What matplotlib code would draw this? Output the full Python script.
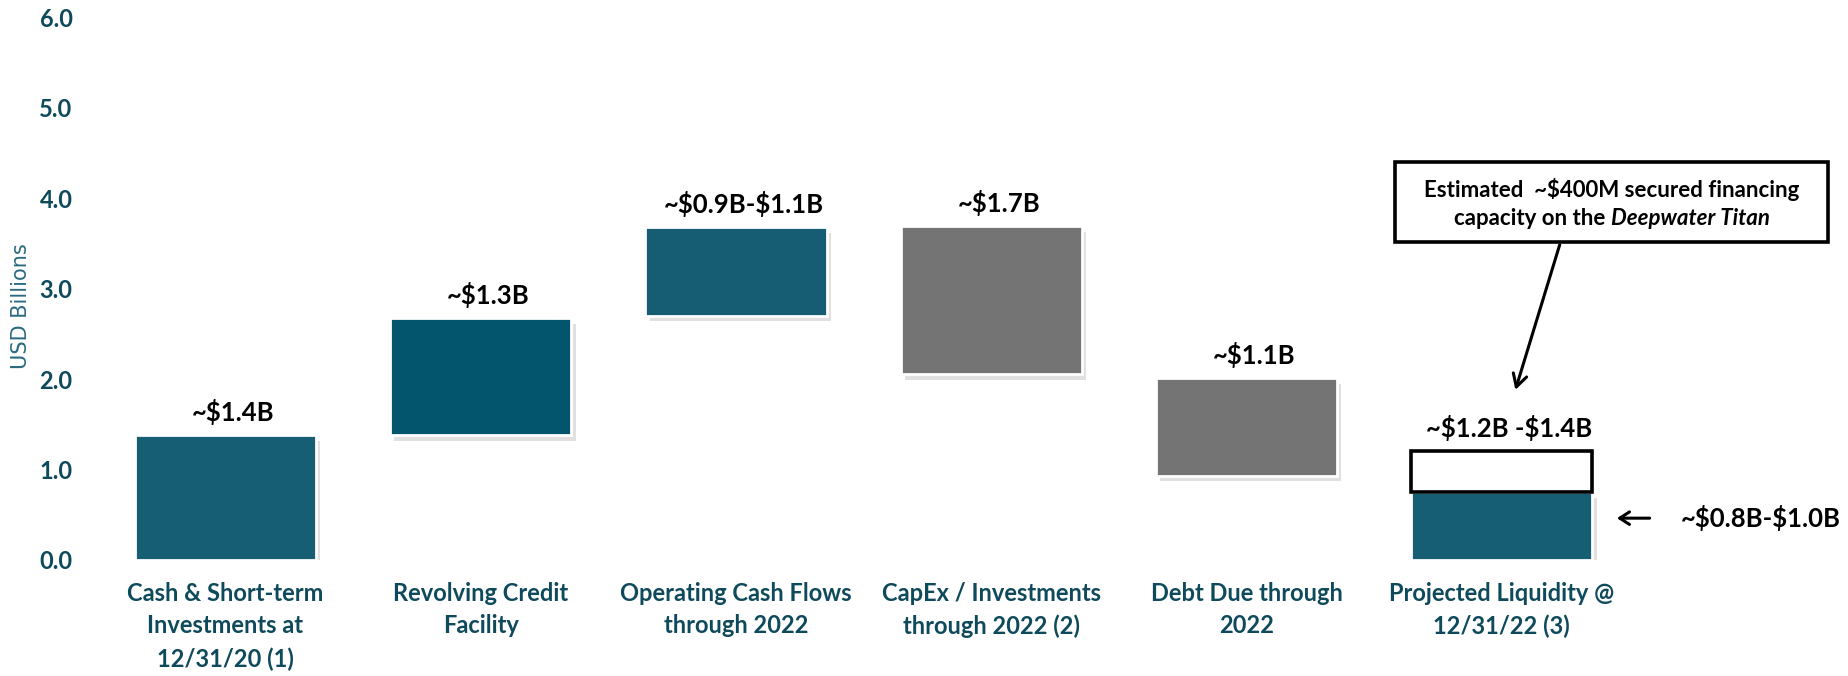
import matplotlib
matplotlib.use("Agg")
import matplotlib.pyplot as plt
import matplotlib.patheffects as pe
import numpy as np

# ---- data (USD billions) ----
categories = [
    "Cash & Short-term\nInvestments at\n12/31/20 (1)",
    "Revolving Credit\nFacility",
    "Operating Cash Flows\nthrough 2022",
    "CapEx / Investments\nthrough 2022 (2)",
    "Debt Due through\n2022",
    "Projected Liquidity @\n12/31/22 (3)",
]
bottoms = [0.0, 1.38, 2.70, 2.05, 0.93, 0.0]
tops = [1.38, 2.67, 3.68, 3.69, 2.01, 0.75]
bar_labels = ["~\\$1.4B", "~\\$1.3B", "~\\$0.9B-\\$1.1B", "~\\$1.7B", "~\\$1.1B", "~\\$1.2B -\\$1.4B"]
bar_colors = ["#165e74", "#03546d", "#165d74", "#747474", "#747474", "#165e74"]
capacity_top = 1.20          # projected liquidity incl. secured financing capacity
side_label = "~\\$0.8B-\\$1.0B"
yticks = [0, 1, 2, 3, 4, 5, 6]

TEAL_TXT = "#0f4a5c"
LATO = ["Lato", "DejaVu Sans"]
LBL_FONT = dict(family=LATO, fontweight="bold", fontsize=18.5, color="black")
BOX_FONT = dict(family=LATO, fontweight="bold", fontsize=16, color="black")

fig = plt.figure(figsize=(18.49, 6.76), dpi=100)
ax = fig.add_axes([0.046, 0.172, 0.954, 0.802])

x = np.arange(len(categories))
heights = np.array(tops) - np.array(bottoms)
shadow = [pe.SimplePatchShadow(offset=(3, -4), shadow_rgbFace="#9a9a9a", alpha=0.3), pe.Normal()]
bars = ax.bar(x, heights, bottom=bottoms, width=0.71, color=bar_colors,
              edgecolor="white", linewidth=2, zorder=2)
for b in bars:
    b.set_path_effects(shadow)

# white "capacity" box on top of the last bar
ax.bar(x[-1], capacity_top - tops[-1], bottom=tops[-1], width=0.71, color="white",
       edgecolor="black", linewidth=2.6, zorder=3)

# value labels
label_tops = list(tops[:-1]) + [capacity_top]
for i, (t, s) in enumerate(zip(label_tops, bar_labels)):
    ax.text(i + 0.03, t + 0.26, s, ha="center", va="center", **LBL_FONT)

# side label with left arrow
ax.annotate("", xy=(5.44, 0.46), xytext=(5.59, 0.46),
            arrowprops=dict(arrowstyle="->,head_length=0.7,head_width=0.45", lw=2.2, color="black"))
ax.text(5.70, 0.46, side_label, ha="left", va="center", **LBL_FONT)

# callout box
bx0, bx1, by0, by1 = 4.583, 6.279, 3.516, 4.397
ax.add_patch(plt.Rectangle((bx0, by0), bx1 - bx0, by1 - by0, fill=False,
                           edgecolor="black", lw=2.6, zorder=4))
cx = (bx0 + bx1) / 2
ax.text(cx, 4.10, "Estimated  ~\\$400M secured financing", ha="center", va="center", **BOX_FONT)
ta = ax.text(cx, 3.78, "capacity on the", ha="left", va="center", **BOX_FONT)
tb = ax.text(cx, 3.78, "Deepwater Titan", ha="left", va="center", fontstyle="italic", **BOX_FONT)
ax.annotate("", xy=(5.05, 1.85), xytext=(5.23, by0),
            arrowprops=dict(arrowstyle="->,head_length=0.9,head_width=0.5", lw=2.2, color="black"))

ax.set_xlim(-0.55, 6.36)
ax.set_ylim(0, 6)

ax.set_yticks(yticks)
ax.set_yticklabels([f"{v:.1f}" for v in yticks])
ax.set_xticks(x)
ax.set_xticklabels(categories, linespacing=1.5)
for lbl in ax.get_xticklabels() + ax.get_yticklabels():
    lbl.set_fontweight("bold")
    lbl.set_color(TEAL_TXT)
    lbl.set_family(LATO)
ax.tick_params(axis="y", length=0, pad=9, labelsize=17)
ax.tick_params(axis="x", length=0, pad=16, labelsize=17)
for sp in ax.spines.values():
    sp.set_visible(False)

# centre the mixed bold / bold-italic second line of the callout
fig.canvas.draw()
r = fig.canvas.get_renderer()
px_per_unit = ax.get_window_extent(r).width / (6.36 + 0.55)
wa = ta.get_window_extent(r).width / px_per_unit
wb = tb.get_window_extent(r).width / px_per_unit
gap = 5 / px_per_unit
start = cx - (wa + gap + wb) / 2
ta.set_x(start)
tb.set_x(start + wa + gap)

fig.text(0.0114, 0.547, "USD Billions", rotation=90, ha="center", va="center",
         family=["Liberation Sans Narrow", "DejaVu Sans"], fontsize=15, color="#2a6a80")

fig.savefig("out.png", dpi=100)
